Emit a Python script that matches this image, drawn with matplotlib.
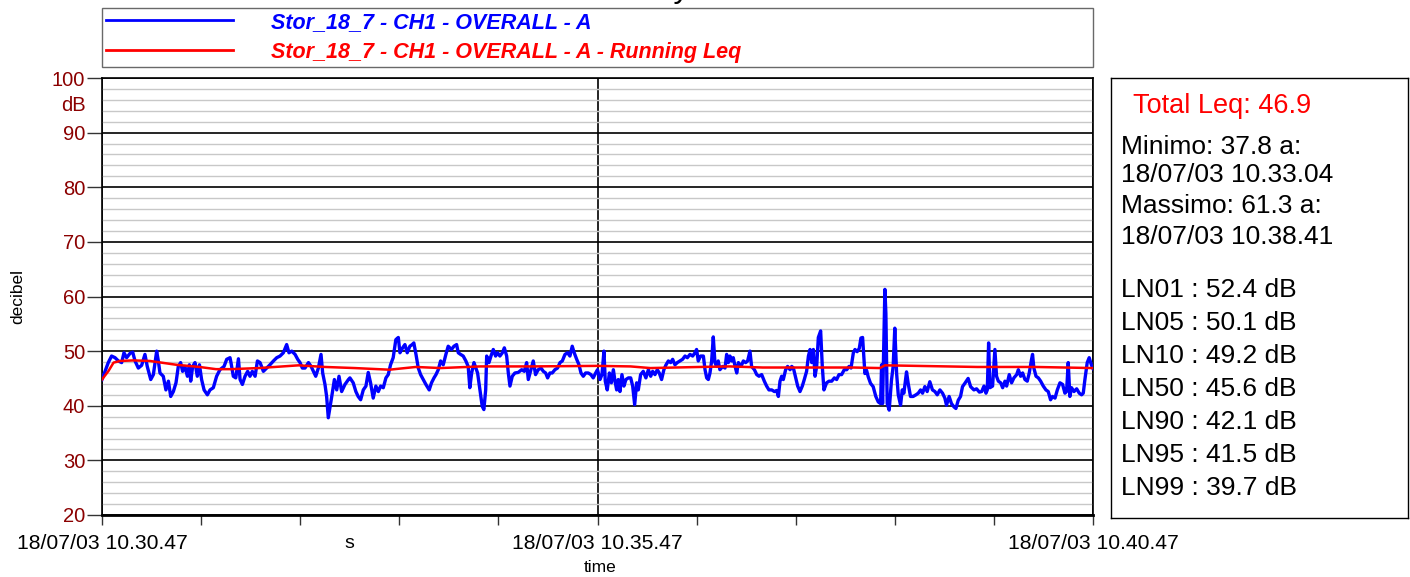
import matplotlib
matplotlib.use('Agg')
import matplotlib.pyplot as plt
from matplotlib.ticker import MultipleLocator

# Impostazioni generali
plt.rcParams['font.family'] = ['Liberation Sans', 'DejaVu Sans']

# Serie misurata (secondi dall'inizio, livello dB(A))
tempo_s = [
    0.0, 3.8, 5.8, 7.9, 9.9, 11.9, 13.3, 14.9, 17.0, 18.6, 20.0, 22.0, 24.0, 26.0,
    27.4, 29.5, 31.1, 33.1, 34.1, 35.1, 37.1, 38.7, 40.2, 41.6, 43.2, 44.8, 46.2,
    47.6, 48.8, 50.2, 51.7, 52.9, 53.7, 54.9, 56.3, 57.7, 59.0, 60.3, 61.8, 63.8,
    65.4, 67.4, 69.4, 71.4, 73.9, 75.5, 77.5,
    78.1, 79.5, 81.0, 82.6, 83.6, 85.0, 86.6, 88.2, 89.6, 91.0, 92.7, 94.1, 95.7,
    97.7, 99.7, 101.7, 103.8, 105.8, 107.8, 109.8, 111.8, 113.2, 114.9, 116.9,
    118.5, 119.9, 121.3, 122.9, 125.0, 126.6, 128.0, 129.4, 131.0, 132.6, 133.6,
    135.0, 136.0, 137.0, 139.1, 140.7, 142.1, 143.5, 145.1, 147.1, 149.2,
    150.1, 152.1, 153.7, 155.1, 156.6, 158.2, 159.8, 161.2, 162.6, 164.2, 165.8,
    167.3, 168.7, 170.3, 171.9, 173.3, 174.7, 176.3, 177.9, 179.4, 180.4, 182.0,
    183.4, 184.8, 186.4, 187.8, 188.8, 190.1, 191.5, 192.9, 194.5, 196.1, 198.1,
    199.5, 201.0, 202.2, 203.6, 205.0, 206.6, 208.2, 209.6, 211.6, 213.1, 214.7,
    215.7, 217.1, 218.7, 220.3, 221.7, 222.7, 223.8, 225.2,
    227.4, 228.8, 230.2, 231.2, 232.3, 232.9, 234.3, 235.5, 236.9, 238.3, 239.5,
    240.9, 242.4, 243.6, 245.0, 246.0, 247.0, 248.4, 250.0, 252.0, 254.1, 255.7,
    257.1, 258.1, 259.7, 261.1, 262.5, 264.1, 265.8, 267.2, 268.6, 269.8, 271.2,
    272.6, 274.2, 275.8, 277.3, 278.7, 280.3, 281.9, 283.3, 284.7, 285.9, 287.4,
    288.8, 290.0, 291.4, 292.8, 294.4, 296.0, 297.4, 298.9, 300.0, 301.5, 302.7,
    303.9, 304.7, 305.9, 307.2, 308.4, 309.6, 310.6, 311.6, 312.6, 313.6, 314.8,
    316.0, 317.2, 318.7, 320.1, 321.3, 322.5, 323.7, 324.7, 326.1, 327.7, 329.3,
    330.8, 332.2, 333.4, 334.8, 336.2, 337.4, 338.8, 340.2, 341.5, 342.9, 344.3,
    345.5, 346.9, 348.3, 349.9, 351.5, 353.0, 354.4, 356.0, 357.6, 359.0, 360.0,
    361.0, 362.4, 364.1, 365.1, 366.1, 367.1, 368.1, 369.1, 370.1, 371.1, 372.1,
    373.1, 374.1, 375.8, 377.2,
    378.2, 379.2, 380.2, 381.2, 382.2, 383.3, 384.3, 385.3, 386.9, 388.3, 389.7,
    390.9, 392.3, 393.3, 395.0, 396.4, 397.8, 399.4, 401.0, 402.4, 403.8, 405.5,
    407.1, 408.5, 409.5, 410.5, 411.5, 412.5, 413.9, 415.1, 416.6, 417.6, 418.6,
    420.0, 421.2, 422.6, 424.0, 425.2, 426.6, 427.7, 428.7, 429.7, 430.7, 431.7,
    432.7, 433.7, 435.1, 436.1, 437.1, 438.7, 440.2, 441.8, 443.4, 444.8, 446.2,
    447.8, 449.4, 450.9, 452.3, 453.5, 454.9, 455.9,
    457.2, 458.5, 459.5, 460.5, 461.9, 462.9, 463.9, 465.3, 466.9, 468.5, 470.0,
    471.4, 472.0, 472.6, 474.0, 474.6, 475.4, 476.6, 478.0, 479.0, 480.0, 481.1,
    482.1, 483.5, 484.5, 485.5, 487.1, 488.1, 489.5, 491.1, 492.8, 494.2, 495.6,
    496.8, 498.2, 499.6, 501.2, 502.8, 504.3, 505.7, 507.3, 508.9, 510.3, 511.3,
    512.9, 514.3, 515.8, 517.0, 518.4, 519.8, 521.0, 522.4, 524.4, 525.9,
    527.9, 529.5, 531.2, 532.6, 534.0, 535.2, 536.0, 536.8, 537.6, 539.2, 540.6,
    541.6, 542.7, 544.1, 545.3, 546.7, 547.7, 549.3, 550.7, 552.1, 553.8, 554.8,
    556.2, 557.4, 558.8, 560.2, 561.4, 562.8, 563.4, 564.2, 565.5, 566.9, 568.3,
    569.9, 571.5, 572.9, 574.3, 575.5, 577.0, 578.4, 580.0, 581.6, 583.0, 584.0,
    585.0, 586.0, 587.0, 588.5, 590.1, 591.7, 593.1, 594.1, 595.1, 596.5, 597.7,
    599.0, 600.0,
]
livello_db = [
    44.8, 47.9, 49.1, 48.8, 48.2, 47.9, 49.7, 48.8, 49.6, 49.8, 48.2, 46.9, 47.4, 49.4,
    47.2, 44.8, 45.7, 50.0, 48.2, 46.0, 45.4, 42.9, 44.5, 41.7, 42.6, 44.2, 47.2,
    47.9, 46.3, 47.2, 45.4, 47.5, 44.5, 47.2, 47.9, 45.4, 47.5, 44.8, 42.9, 42.0,
    42.9, 43.3, 45.4, 46.6, 47.2, 48.5, 48.8,
    47.9, 45.4, 45.1, 48.6, 44.8, 43.9, 45.4, 46.3, 45.4, 46.3, 45.4, 48.2, 47.9,
    46.3, 46.9, 47.5, 48.2, 48.8, 49.1, 49.7, 51.2, 49.7, 50.0, 49.4,
    48.5, 47.9, 46.9, 46.9, 47.9, 47.2, 46.3, 45.4, 46.9, 49.4, 46.0,
    43.9, 41.7, 37.8, 41.7, 44.8, 42.9, 45.4, 42.6, 43.9, 44.8,
    45.1, 44.2, 42.6, 41.7, 41.1, 42.9, 43.6, 46.1, 44.2, 41.4, 43.6,
    42.6, 43.6, 43.3, 45.1, 45.7, 47.5, 48.8, 52.1, 52.5, 49.7, 50.6,
    51.2, 49.7, 50.9, 51.2, 51.5, 49.4, 46.9, 45.7, 44.8, 43.9, 42.9,
    44.2, 45.1, 45.7, 46.6, 48.2, 47.5, 49.4, 50.9, 50.3, 50.9, 51.2,
    49.7, 49.4, 49.1, 48.2, 47.2, 43.3, 46.0, 47.9,
    46.0, 42.9, 39.9, 39.3, 42.9, 49.1, 47.9, 49.1, 50.3, 49.1, 49.7,
    49.1, 49.7, 50.6, 49.1, 46.0, 43.6, 45.4, 46.0, 46.1, 46.6, 46.3,
    47.9, 44.8, 46.6, 48.2, 45.7, 46.6, 46.9, 46.3, 46.0, 45.1, 46.0,
    46.0, 46.6, 46.9, 47.9, 48.2, 49.4, 49.7, 49.1, 50.9, 49.7, 48.5,
    47.5, 46.0, 45.4, 46.0, 46.0, 45.7, 45.1, 46.0, 46.6, 44.8, 45.7,
    50.0, 44.5, 42.9, 46.0, 44.2, 46.6, 44.5, 42.9, 44.8, 42.6, 45.7,
    43.6, 44.8, 45.1, 45.1, 43.6, 40.2, 44.2, 42.9, 45.7, 46.3, 45.1,
    46.6, 45.4, 46.3, 45.7, 46.6, 46.0, 44.8, 46.6, 47.5, 48.2, 47.9,
    48.5, 47.5, 47.9, 48.2, 48.5, 49.1, 48.8, 49.4, 49.1, 49.7, 50.3,
    48.2, 49.1, 49.1, 46.6, 45.1, 44.8, 46.0, 48.2, 52.6, 47.9, 47.2,
    48.2, 46.6, 47.2, 46.9,
    49.4, 47.9, 49.1, 48.2, 48.8, 47.2, 46.0, 47.9, 47.2, 48.2, 47.9,
    48.2, 50.0, 47.2, 46.6, 45.7, 45.4, 45.7, 44.5, 43.6, 42.9, 42.9,
    42.6, 42.8, 41.7, 44.5, 45.4, 44.8, 46.6, 47.2, 46.6, 47.2, 46.9,
    45.1, 43.6, 42.6, 43.6, 44.8, 46.3, 49.1, 50.3, 47.9, 50.3, 45.4,
    47.2, 52.5, 53.7, 47.2, 42.9, 44.2, 44.5, 44.5, 45.1, 44.8, 45.7,
    45.7, 46.6, 46.6, 47.2, 46.9, 49.7, 50.3,
    49.9, 50.5, 52.4, 52.5, 45.9, 46.5, 45.3, 44.1, 43.5, 41.7, 40.7,
    40.4, 47.5, 40.4, 61.3, 56.9, 40.4, 39.2, 44.7, 47.2, 54.2, 45.9,
    42.0, 40.1, 42.9, 42.3, 46.2, 44.1, 41.7, 41.7, 42.0, 42.3, 42.9,
    42.3, 43.5, 42.6, 44.4, 42.9, 42.6, 42.0, 42.9, 42.3, 41.4, 40.1,
    41.7, 40.4, 39.8, 39.5, 41.0, 41.7, 43.5, 44.1, 45.0, 43.5,
    42.9, 43.1, 42.5, 42.6, 43.6, 42.3, 42.9, 51.5, 43.3, 43.6, 50.3,
    45.4, 44.5, 44.2, 43.3, 44.5, 43.6, 45.7, 44.2, 45.1, 45.7, 46.6,
    45.4, 46.0, 44.8, 44.5, 46.0, 48.5, 49.4, 46.9, 45.4, 45.1, 44.5,
    43.6, 42.9, 42.6, 41.1, 41.7, 41.4, 42.9, 44.2, 43.9, 42.3, 42.6,
    47.9, 41.7, 43.3, 42.6, 43.1, 42.3, 42.0, 42.3, 44.8, 47.9, 48.8,
    47.5, 46.8,
]

# Leq progressivo
tempo_leq_s = [0, 2, 4, 7, 11, 19, 29, 45, 59, 69, 78, 95, 119, 135, 153, 174, 190,
               205, 229, 260, 300, 320, 332, 362, 380, 400, 430, 455, 471, 474, 493,
               530, 565, 600]
leq_db = [44.8, 45.6, 46.4, 47.9, 48.2, 48.3, 48.2, 47.5, 47.1, 46.7, 46.7, 46.9,
          47.4, 47.1, 46.9, 46.6, 47.1, 46.9, 47.2, 47.2, 47.3, 47.2, 46.9, 47.1,
          47.2, 47.0, 47.0, 47.0, 46.9, 47.4, 47.3, 47.1, 47.1, 46.9]

# Etichette
etichette_x = ['18/07/03 10.30.47', '18/07/03 10.35.47', '18/07/03 10.40.47']
nome_serie = 'Stor_18_7 - CH1 - OVERALL - A'
nome_leq = 'Stor_18_7 - CH1 - OVERALL - A - Running Leq'
leq_totale = 46.9
righe_min_max = ['Minimo: 37.8 a:', '18/07/03 10.33.04',
                 'Massimo: 61.3 a:', '18/07/03 10.38.41']
ln_nomi = ['LN01', 'LN05', 'LN10', 'LN50', 'LN90', 'LN95', 'LN99']
ln_valori = [52.4, 50.1, 49.2, 45.6, 42.1, 41.5, 39.7]

ROSSO_SCURO = '#8B0000'
W, H = 1410, 577


def px(x, y):
    """Converte pixel (origine in alto a sinistra) in coordinate figura."""
    return x / W, 1 - y / H


def main():
    fig = plt.figure(figsize=(W / 100, H / 100), dpi=100)
    ax = fig.add_axes([102 / W, 1 - 515 / H, 991 / W, 437 / H])

    ax.plot(tempo_s, livello_db, color='#0000FF', lw=2.4, label=nome_serie, zorder=3)
    ax.plot(tempo_leq_s, leq_db, color='#FF0000', lw=1.8, label=nome_leq, zorder=4)

    ax.set_xlim(0, 600)
    ax.set_ylim(20, 100)

    # assi e griglia
    ax.set_xticks([0, 300, 600])
    ax.set_xticklabels(etichette_x, fontsize=15.2)
    ax.xaxis.set_minor_locator(MultipleLocator(60))
    ax.tick_params(axis='x', which='both', direction='out', length=7, width=1,
                   pad=7, color='#333333')
    ax.set_yticks(range(20, 101, 10))
    ax.tick_params(axis='y', which='major', direction='out', length=11, width=1,
                   pad=1, labelsize=14.5, labelcolor=ROSSO_SCURO, color='#333333')
    ax.yaxis.set_minor_locator(MultipleLocator(2))
    ax.tick_params(axis='y', which='minor', length=0)
    ax.grid(axis='y', which='minor', color='#C8C8C8', lw=1)
    ax.grid(axis='y', which='major', color='black', lw=1.2)
    ax.grid(axis='x', which='major', color='black', lw=1.2)
    ax.set_axisbelow(True)
    for s in ax.spines.values():
        s.set_linewidth(1.2)
    ax.spines['bottom'].set_linewidth(2)

    ax.text(-0.016, 95, 'dB', transform=ax.get_yaxis_transform(), ha='right',
            va='center', fontsize=14.5, color=ROSSO_SCURO)
    ax.text(150, -0.065, 's', transform=ax.get_xaxis_transform(), ha='center',
            va='center', fontsize=14)

    fig.text(*px(18, 297), 'decibel', rotation=90, ha='center', va='center', fontsize=12.5)
    fig.text(*px(600, 568), 'time', ha='center', va='center', fontsize=12.5)
    # titolo tagliato dal bordo superiore, come nell'originale
    fig.text(*px(600, -2.5), 'Time History', ha='center', va='baseline', fontsize=23)

    # legenda sopra il grafico
    leg = ax.legend(loc='lower left', bbox_to_anchor=(0, 1.025, 1, 0.13), mode='expand',
                    borderaxespad=0, ncol=1, handlelength=5.9, handletextpad=1.75,
                    labelspacing=0.41, borderpad=0.2, fancybox=False,
                    edgecolor='#444444', labelcolor='linecolor',
                    prop={'family': 'Liberation Sans', 'style': 'italic',
                          'weight': 'bold', 'size': 15.5})
    leg.get_frame().set_linewidth(1)
    for linea in leg.get_lines():
        linea.set_linewidth(2)

    # riquadro statistiche a destra
    box = fig.add_axes([1111 / W, 1 - 518 / H, 297 / W, 440 / H])
    box.set_xticks([])
    box.set_yticks([])
    for s in box.spines.values():
        s.set_linewidth(1)

    def bxy(x, y):
        return (x - 1111) / 297, (518 - y) / 440

    box.text(*bxy(1133, 106), f'Total Leq: {leq_totale}', color='#FF0000',
             fontsize=19.5, va='center', ha='left')
    for riga, y in zip(righe_min_max, [147, 175, 206, 237]):
        box.text(*bxy(1121, y), riga, fontsize=19, va='center', ha='left')
    for i, (nome, val) in enumerate(zip(ln_nomi, ln_valori)):
        box.text(*bxy(1121, 290 + i * 33), f'{nome} : {val} dB', fontsize=19,
                 va='center', ha='left')

    fig.savefig('out.png', dpi=100)


if __name__ == '__main__':
    main()
